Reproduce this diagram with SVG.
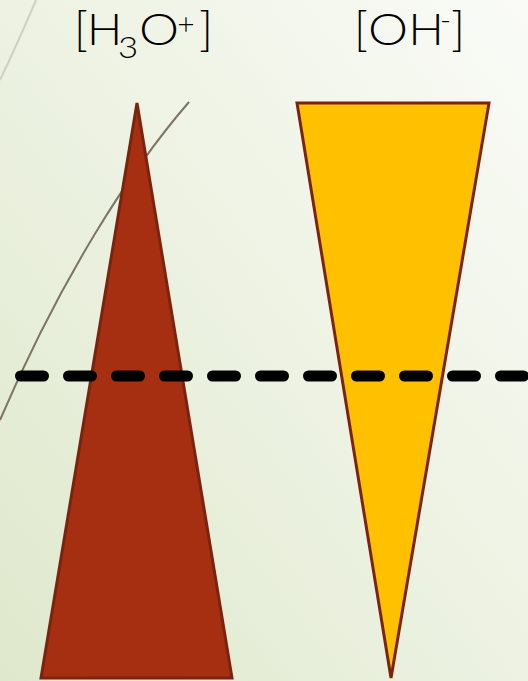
<svg xmlns="http://www.w3.org/2000/svg" width="528" height="681" viewBox="0 0 528 681">
<defs>
<linearGradient id="bg" x1="0" y1="1" x2="1" y2="0">
<stop offset="0" stop-color="#dfe8cc"/>
<stop offset="0.55" stop-color="#eef3e4"/>
<stop offset="1" stop-color="#fafbf7"/>
</linearGradient>
<style>
.lbl{font-family:Lato,"Liberation Sans","DejaVu Sans",sans-serif;font-weight:300;fill:#000;text-anchor:middle;}
.big{font-size:44px;}
.br{font-size:47px;}
.sub{font-size:29px;}
.sup{font-size:30px;}
.tri{stroke:#7a2410;stroke-width:3;stroke-linejoin:miter;}
</style>
</defs>
<rect width="528" height="681" fill="url(#bg)"/>
<g id="decor" fill="none">
<path d="M36,0 Q20,38 0,80" stroke="#cfd0c0" stroke-width="2"/>
<path d="M189,102 C130,170 60,280 0,420" stroke="#7d7464" stroke-width="2"/>
</g>
<g id="h3o-triangle">
<polygon class="tri" points="137,103 232,678 41,678" fill="#a52f10"/>
</g>
<g id="oh-triangle">
<polygon class="tri" points="297,103 489,103 391,678" fill="#ffc000"/>
</g>
<g id="connectors">
<line x1="20.5" y1="376" x2="528" y2="376" stroke="#000" stroke-width="11" stroke-linecap="round" stroke-dasharray="23 25"/>
</g>
<g id="h3o-label" class="lbl">
<text class="br" x="81" y="46">[</text>
<text class="big" transform="translate(104.5,45) scale(1.06,1)">H</text>
<text class="sub" transform="translate(128,58) scale(1.2,1)">3</text>
<text class="big" transform="translate(159,45) scale(1.15,1)">O</text>
<text class="sup" x="186" y="35">+</text>
<text class="br" x="206" y="46">]</text>
</g>
<g id="oh-label" class="lbl">
<text class="br" x="361" y="46">[</text>
<text class="big" transform="translate(388,45) scale(1.15,1)">O</text>
<text class="big" transform="translate(426,45) scale(1.06,1)">H</text>
<text class="sup" x="445.5" y="30">-</text>
<text class="br" x="458" y="46">]</text>
</g>
</svg>
